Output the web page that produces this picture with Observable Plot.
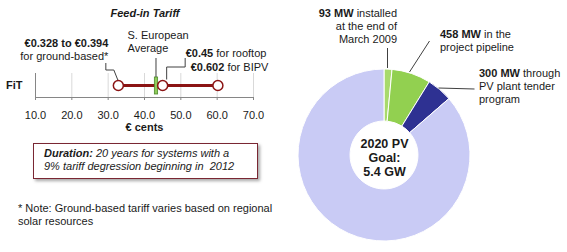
<!DOCTYPE html>
<html>
<head>
<meta charset="utf-8">
<script src="https://cdn.jsdelivr.net/npm/d3@7"></script>
<script src="https://cdn.jsdelivr.net/npm/@observablehq/plot@0.6"></script>
<style>
  html, body { margin: 0; padding: 0; background: #fff; }
  body { font-family: "Liberation Sans", Arial, sans-serif; }
  #chart { position: relative; width: 567px; height: 252px; overflow: hidden; }
  #left, #right { position: absolute; top: 0; height: 252px; }
  #left { left: 0; width: 290px; color: #868686; }
  #right { left: 290px; width: 277px; }
  #chart svg text { fill: #1a1a1a; }
  .title {
    position: absolute; left: 0; top: 6px; width: 290px; text-align: center;
    font: italic bold 11px "Liberation Sans", Arial, sans-serif; line-height: 14px; color: #1a1a1a;
  }
  .duration {
    position: absolute; left: 33px; top: 143px; width: 225px; height: 36px; box-sizing: border-box;
    border: 1px solid #7a2733; box-shadow: 2px 2px 3px rgba(0,0,0,0.35); background: #fff;
    padding: 3px 0 0 10px; font: italic 11px "Liberation Sans", Arial, sans-serif; line-height: 13px; color: #1a1a1a;
  }
  .note {
    position: absolute; left: 18px; top: 202px;
    font: 11px "Liberation Sans", Arial, sans-serif; line-height: 13px; color: #1a1a1a;
  }
</style>
</head>
<body>
<div id="chart">
  <div id="left"></div>
  <div id="right"></div>
  <div class="title">Feed-in Tariff</div>
  <div class="duration"><b>Duration:</b> 20 years for systems with a<br>9% tariff degression beginning in&nbsp; 2012</div>
  <div class="note">* Note: Ground-based tariff varies based on regional<br>solar resources</div>
</div>
<script>
// Feed-in tariff, in euro cents per kWh
const tariffRows = ["FiT"];
const tariffCents = [32.8, 45.0, 60.2];     // ground-based (low end), rooftop, BIPV
const southEuropeAvgCents = 43.3;
const centTicks = [10, 20, 30, 40, 50, 60, 70];

// PV capacity (MW): installed, pipeline, tender program, 2020 goal
const pvSegments = ["Installed (Mar 2009)", "Project pipeline", "PV plant tender", "2020 PV goal"];
const pvMW = [93, 458, 300, 5400];

const font = '"Liberation Sans", Arial, sans-serif';
const tariffRed = "#8b1414";
const leaderColor = "#404040";
const pvPalette = ["#a8da6c", "#92d050", "#2e3192", "#c9cbf5"];

// Elbow leader line; points are pixel offsets from an anchor
function leader(anchor, points) {
  return (index, scales, values, dims) => {
    const cx = anchor.x != null
      ? scales.x(anchor.x)
      : dims.marginLeft + (dims.width - dims.marginLeft - dims.marginRight) / 2;
    const cy = dims.marginTop + (dims.height - dims.marginTop - dims.marginBottom) / 2;
    return d3.create("svg:path")
      .attr("d", d3.line()(points.map(([dx, dy]) => [cx + dx, cy + dy])))
      .attr("fill", "none")
      .attr("stroke", leaderColor)
      .attr("stroke-width", 1)
      .node();
  };
}

// Turn **bold** runs inside text into bold tspans
function applyBold(svg) {
  svg.querySelectorAll("text, tspan").forEach((el) => {
    if (el.childElementCount || !el.textContent.includes("**")) return;
    const parts = el.textContent.split("**");
    el.textContent = "";
    parts.forEach((part, i) => {
      if (!part) return;
      const t = document.createElementNS("http://www.w3.org/2000/svg", "tspan");
      if (i % 2) t.setAttribute("font-weight", "bold");
      t.textContent = part;
      el.appendChild(t);
    });
  });
}

const note = (text, options) =>
  Plot.text([text], {text: (d) => d, lineHeight: 1.18, ...options});

const left = Plot.plot({
  width: 290,
  height: 252,
  marginTop: 73,
  marginBottom: 155,
  marginLeft: 35,
  marginRight: 37,
  style: {fontFamily: font, fontSize: "11px", background: "transparent", overflow: "visible"},
  x: {domain: [10, 70], ticks: centTicks, tickFormat: d3.format(".1f"), tickSize: 3, tickPadding: 11, line: true, label: null},
  y: {type: "band", domain: tariffRows, padding: 0, axis: null},
  marks: [
    Plot.ruleX(centTicks.slice(1), {stroke: "#d9d9d9"}),
    Plot.ruleX([centTicks[0]], {stroke: "#868686"}),
    Plot.text(tariffRows, {text: (d) => d, y: (d) => d, frameAnchor: "left", dx: -13, textAnchor: "end", fontWeight: "bold"}),
    Plot.ruleY(tariffRows, {
      y: (d) => d,
      x1: () => d3.min(tariffCents),
      x2: () => d3.max(tariffCents),
      stroke: tariffRed,
      strokeWidth: 3
    }),
    Plot.barX([southEuropeAvgCents], {
      y: () => tariffRows[0],
      x1: (d) => d - 0.45,
      x2: (d) => d + 0.45,
      insetTop: 4,
      insetBottom: 3,
      fill: "#8fcc5a",
      stroke: "#4e8a2e",
      strokeWidth: 0.8
    }),
    Plot.dot(tariffCents, {
      x: (d) => d,
      y: () => tariffRows[0],
      r: 5,
      fill: "white",
      stroke: tariffRed,
      strokeWidth: 1.5,
      ariaLabel: "tariff point"
    }),
    leader({x: tariffCents[0]}, [[-12, -22], [-12, -15], [-4, -15], [0, -5]]),
    leader({x: southEuropeAvgCents}, [[0, -27], [0, -8]]),
    leader({x: tariffCents[1]}, [[23, -27], [23, -18], [4.5, -18], [4.5, -5.5]]),
    note("**€0.328 to €0.394**\nfor ground-based*", {x: () => tariffCents[0], y: () => tariffRows[0], dx: -10, dy: -36.5, textAnchor: "end"}),
    note("S. European\nAverage", {x: () => southEuropeAvgCents, y: () => tariffRows[0], dx: -29, dy: -44.5, textAnchor: "start"}),
    note("**€0.45** for rooftop", {x: () => tariffCents[1], y: () => tariffRows[0], dx: 23, dy: -33, textAnchor: "start"}),
    note("**€0.602** for BIPV", {x: () => tariffCents[2], y: () => tariffRows[0], dx: 50.5, dy: -19, textAnchor: "end"}),
    Plot.text(["€ cents"], {text: (d) => d, frameAnchor: "bottom", dy: 33, fontWeight: "bold"})
  ]
});
applyBold(left);
left.querySelectorAll('g[aria-label="tariff point"] circle').forEach((c) => {
  c.style.filter = "drop-shadow(1.5px 1.5px 1px rgba(90,0,0,0.45))";
});
document.getElementById("left").appendChild(left);

// Donut of PV capacity toward the 2020 goal
const donut = (index, scales, values, dims) => {
  const w = dims.width - dims.marginLeft - dims.marginRight;
  const h = dims.height - dims.marginTop - dims.marginBottom;
  const r = Math.min(w, h) / 2;
  const g = d3.create("svg:g")
    .attr("transform", `translate(${dims.marginLeft + w / 2},${dims.marginTop + h / 2})`);
  const arc = d3.arc().innerRadius(r * 0.395).outerRadius(r);
  g.selectAll("path")
    .data(d3.pie().sort(null)(pvMW))
    .join("path")
    .attr("d", arc)
    .attr("fill", (d, i) => pvPalette[i])
    .attr("stroke", "white")
    .attr("stroke-width", 1)
    .append("title")
    .text((d, i) => `${pvSegments[i]}: ${d.data} MW`);
  return g.node();
};

const center = {};
const right = Plot.plot({
  width: 277,
  height: 252,
  marginTop: 69,
  marginBottom: 11,
  marginLeft: 8,
  marginRight: 97,
  style: {fontFamily: font, fontSize: "11px", background: "transparent", overflow: "visible"},
  marks: [
    donut,
    leader(center, [[3.5, -107], [3.5, -87]]),
    leader(center, [[45.5, -114], [25.5, -83]]),
    leader(center, [[54.5, -67], [90.5, -66]]),
    Plot.text([`2020 PV\nGoal:\n${pvMW[3] / 1000} GW`], {
      text: (d) => d, frameAnchor: "middle", dy: 2, fontWeight: "bold", fontSize: 12.5, lineHeight: 1.12
    }),
    note(`**${pvMW[0]} MW** installed\nat the end of\nMarch 2009`, {frameAnchor: "middle", dx: 12.5, dy: -130, textAnchor: "end"}),
    note(`**${pvMW[1]} MW** in the\nproject pipeline`, {frameAnchor: "middle", dx: 55.5, dy: -115.5, textAnchor: "start"}),
    note(`**${pvMW[2]} MW** through\nPV plant tender\nprogram`, {frameAnchor: "middle", dx: 94.5, dy: -70, textAnchor: "start"})
  ]
});
applyBold(right);
document.getElementById("right").appendChild(right);
</script>
</body>
</html>
